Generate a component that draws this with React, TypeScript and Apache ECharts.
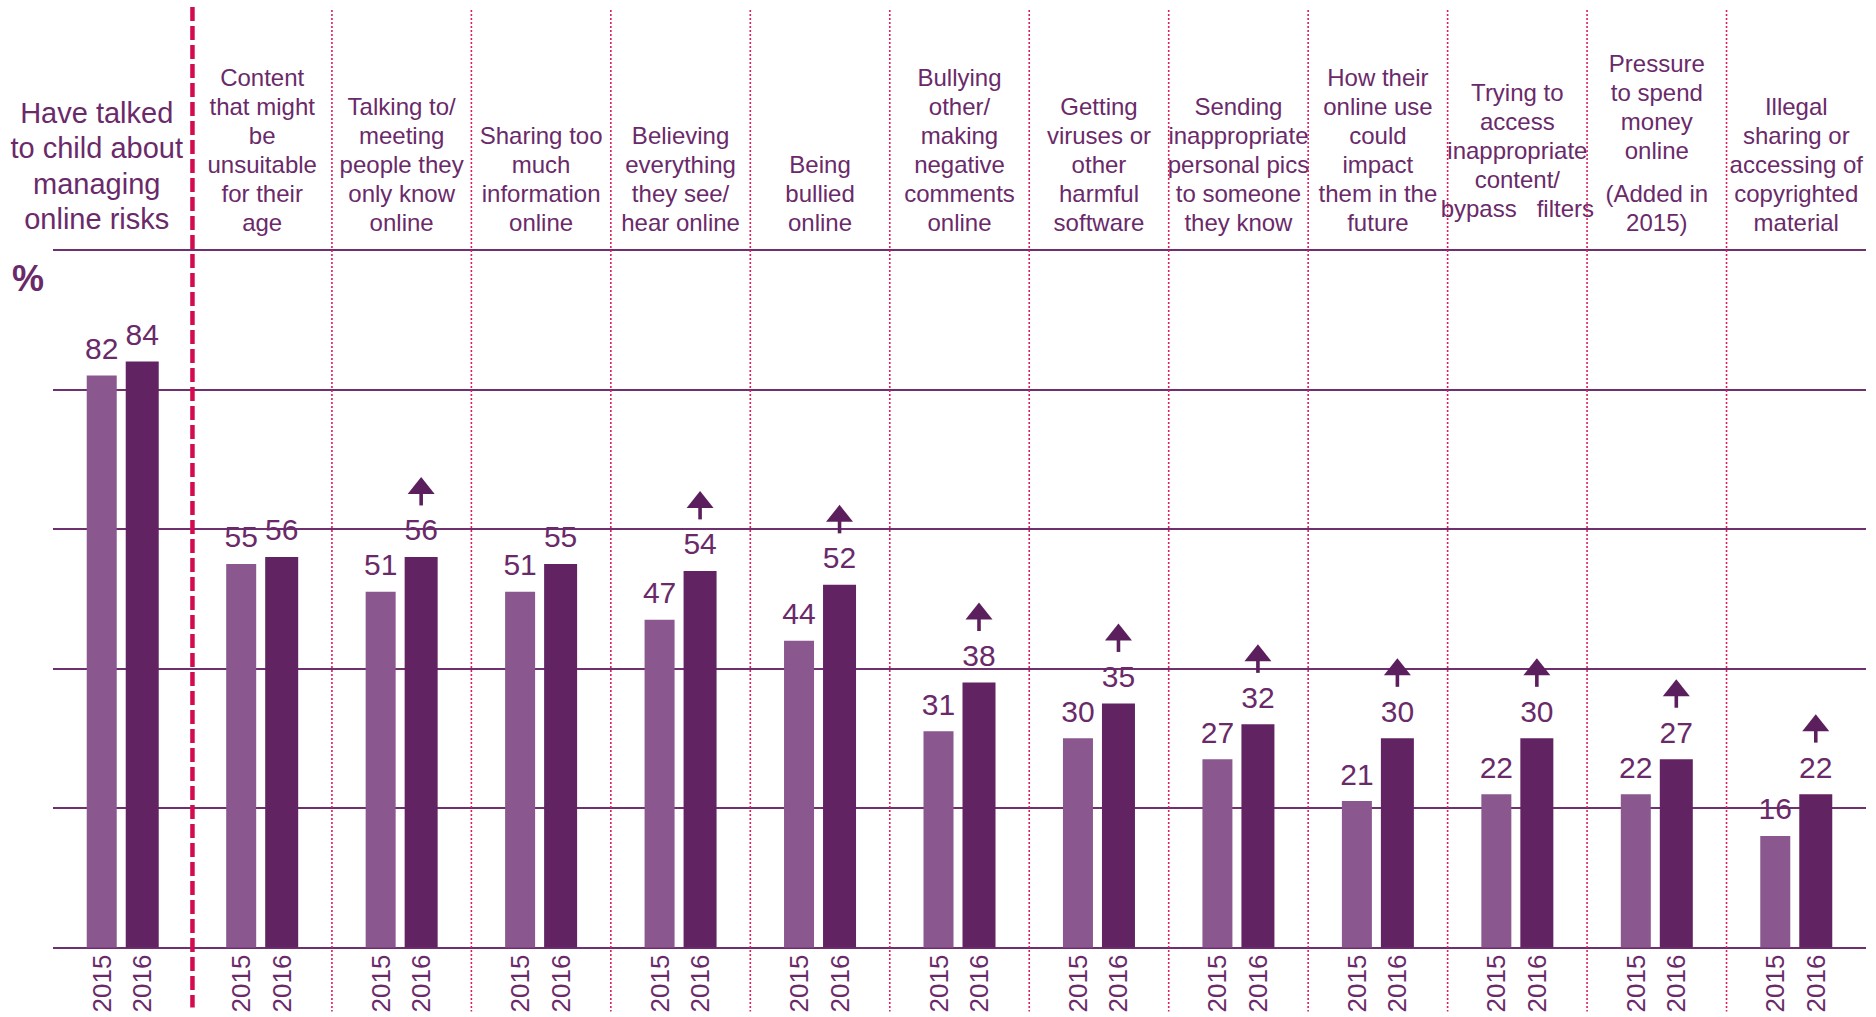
import React, { useEffect, useRef } from 'react';
import * as echarts from 'echarts';

// ---------- data ----------
const categories: string[] = [
  'Have talked\nto child about\nmanaging\nonline risks',
  'Content\nthat might\nbe\nunsuitable\nfor their\nage',
  'Talking to/\nmeeting\npeople they\nonly know\nonline',
  'Sharing too\nmuch\ninformation\nonline',
  'Believing\neverything\nthey see/\nhear online',
  'Being\nbullied\nonline',
  'Bullying\nother/\nmaking\nnegative\ncomments\nonline',
  'Getting\nviruses or\nother\nharmful\nsoftware',
  'Sending\ninappropriate\npersonal pics\nto someone\nthey know',
  'How their\nonline use\ncould\nimpact\nthem in the\nfuture',
  'Trying to\naccess\ninappropriate\ncontent/\nbypass   filters\n',
  'Pressure\nto spend\nmoney\nonline\n\n(Added in\n2015)',
  'Illegal\nsharing or\naccessing of\ncopyrighted\nmaterial',
];
const years: string[] = ['2015', '2016'];
const values2015: number[] = [82, 55, 51, 51, 47, 44, 31, 30, 27, 21, 22, 22, 16];
const values2016: number[] = [84, 56, 56, 55, 54, 52, 38, 35, 32, 30, 30, 27, 22];
const significantRise: boolean[] = [false, false, true, false, true, true, true, true, true, true, true, true, true];
const yTicks = { min: 0, max: 100, interval: 20 };
const unitLabel = '%';

// ---------- style ----------
const FONT = '"Liberation Sans", Arial, Helvetica, sans-serif';
const TEXT = '#6a2a6a';
const C2015 = '#8b578f';
const C2016 = '#622363';
const GRIDLINE = '#6e306e';
const RED = '#d30c4d';
const DOT = '#dc1f5c';
const ARROW = '#5c1f5d';
const BAR_W1 = 30;
const BAR_W2 = 33;
const GAP_PCT = 0.3;
const TOTAL_W = BAR_W1 * (1 + GAP_PCT) + BAR_W2;
const OFF_2015 = -TOTAL_W / 2 + BAR_W1 / 2;
const OFF_2016 = -TOTAL_W / 2 + BAR_W1 * (1 + GAP_PCT) + BAR_W2 / 2;

export default function App() {
  const ref = useRef<HTMLDivElement>(null);
  useEffect(() => {
    if (!ref.current) return;
    const chart = echarts.init(ref.current, undefined, { renderer: 'svg' });

    const arrowData = values2016
      .map((v, i) => (significantRise[i] ? [i, v] : null))
      .filter((d) => d !== null);

    const option: any = {
      animation: false,
      backgroundColor: '#ffffff',
      grid: { left: 53, right: 10, top: 250, bottom: 69.4, containLabel: false, outerBoundsMode: 'none' },
      xAxis: [
        {
          type: 'category',
          data: categories,
          position: 'bottom',
          axisLine: { show: false },
          axisTick: { show: false },
          axisLabel: { show: false },
          splitLine: { show: false },
        },
        {
          type: 'category',
          data: categories,
          position: 'top',
          axisLine: { show: false },
          axisTick: { show: false },
          splitLine: { show: false },
          axisLabel: {
            interval: 0,
            margin: 13,
            color: TEXT,
            fontFamily: FONT,
            fontSize: 24,
            lineHeight: 29,
            formatter: (value: string, index: number) => {
              const st = index === 0 ? 'big' : 'n';
              return value
                .split('\n')
                .map((l) => (l === '' ? '{sp| }' : `{${st}|${l}}`))
                .join('\n');
            },
            rich: {
              n: { fontSize: 24, lineHeight: 29, color: TEXT, fontFamily: FONT, align: 'center' },
              big: { fontSize: 29, lineHeight: 35.5, color: TEXT, fontFamily: FONT, align: 'center', padding: [0, 52, 0, 0] },
              sp: { fontSize: 8, lineHeight: 14, align: 'center' },
            },
          },
        },
      ],
      yAxis: {
        type: 'value',
        min: yTicks.min,
        max: yTicks.max,
        interval: yTicks.interval,
        axisLine: { show: false },
        axisTick: { show: false },
        axisLabel: { show: false },
        splitLine: { lineStyle: { color: GRIDLINE, width: 2 } },
        name: unitLabel,
        nameLocation: 'end',
        nameGap: -28,
        nameTextStyle: {
          color: TEXT,
          fontFamily: FONT,
          fontSize: 36,
          fontWeight: 'bold',
          align: 'right',
          verticalAlign: 'middle',
          padding: [0, 9, 0, 0],
        },
      },
      series: [
        {
          type: 'bar',
          name: years[0],
          xAxisIndex: 0,
          data: values2015,
          barWidth: BAR_W1,
          barGap: GAP_PCT * 100 + '%',
          itemStyle: { color: C2015 },
          label: { show: true, position: 'top', distance: 12, fontSize: 30, color: TEXT, fontFamily: FONT },
        },
        {
          type: 'bar',
          name: years[1],
          xAxisIndex: 0,
          data: values2016,
          barWidth: BAR_W2,
          barGap: GAP_PCT * 100 + '%',
          itemStyle: { color: C2016 },
          label: { show: true, position: 'top', distance: 12, fontSize: 30, color: TEXT, fontFamily: FONT },
        },
        {
          type: 'custom',
          name: 'separators',
          coordinateSystem: 'cartesian2d',
          xAxisIndex: 0,
          yAxisIndex: 0,
          silent: true,
          z: 5,
          data: categories.slice(1).map((_, k) => [k + 1, 0]),
          encode: { x: 0, y: 1 },
          renderItem: (params: any, api: any) => {
            const i = api.value(0);
            const base = api.coord([i, yTicks.min]);
            const top = api.coord([i, yTicks.max]);
            const bw = api.size([1, 0])[0];
            const x = base[0] - bw / 2;
            const first = i === 1;
            return {
              type: 'line',
              shape: { x1: x, y1: top[1] - (first ? 243 : 240), x2: x, y2: base[1] + (first ? 60 : 64) },
              style: first
                ? { stroke: RED, lineWidth: 4.5, lineDash: [14, 5] }
                : { stroke: DOT, lineWidth: 1.6, lineDash: [2, 2] },
            };
          },
        },
        {
          type: 'custom',
          name: 'years',
          coordinateSystem: 'cartesian2d',
          xAxisIndex: 0,
          yAxisIndex: 0,
          silent: true,
          data: categories.map((_, i) => [i, 0]),
          encode: { x: 0, y: 1 },
          renderItem: (params: any, api: any) => {
            const i = api.value(0);
            const base = api.coord([i, 0]);
            return {
              type: 'group',
              children: years.map((yr, j) => ({
                type: 'text',
                x: base[0] + (j === 0 ? OFF_2015 : OFF_2016),
                y: base[1] + 7,
                rotation: Math.PI / 2,
                style: {
                  text: yr,
                  fill: TEXT,
                  fontSize: 26,
                  fontFamily: FONT,
                  align: 'right',
                  verticalAlign: 'middle',
                },
              })),
            };
          },
        },
        {
          type: 'custom',
          name: 'arrows',
          coordinateSystem: 'cartesian2d',
          xAxisIndex: 0,
          yAxisIndex: 0,
          silent: true,
          z: 6,
          data: arrowData,
          encode: { x: 0, y: 1 },
          renderItem: (params: any, api: any) => {
            const c = api.coord([api.value(0), api.value(1)]);
            const x = c[0] + OFF_2016;
            const tip = c[1] - 80;
            return {
              type: 'group',
              children: [
                {
                  type: 'polygon',
                  shape: { points: [[x - 13.5, tip + 17], [x, tip], [x + 13.5, tip + 17]] },
                  style: { fill: ARROW },
                },
                {
                  type: 'rect',
                  shape: { x: x - 1.8, y: tip + 16, width: 3.6, height: 12.5 },
                  style: { fill: ARROW },
                },
              ],
            };
          },
        },
      ],
    };

    chart.setOption(option);
    return () => chart.dispose();
  }, []);

  return (
    <div
      ref={ref}
      style={{ position: 'fixed', left: 0, top: 0, width: 1876, height: 1017, background: '#fff' }}
    />
  );
}
